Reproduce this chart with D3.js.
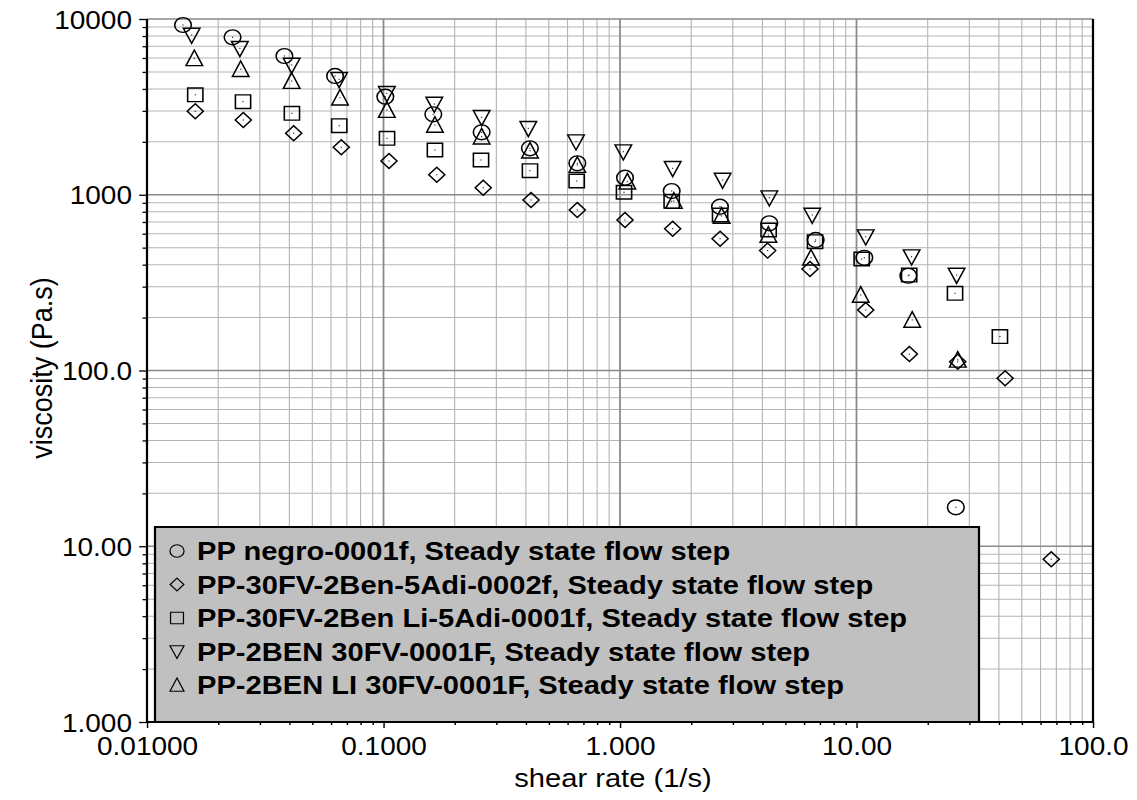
<!DOCTYPE html>
<html>
<head>
<meta charset="utf-8">
<script src="https://cdn.jsdelivr.net/npm/d3@7"></script>
<style>
  html, body { margin: 0; padding: 0; background: #fff; }
  svg { display: block; }
  text { font-family: "Liberation Sans", Arial, sans-serif; fill: #000; }
</style>
</head>
<body>
<div id="chart"></div>
<script>
// series data (shear rate 1/s, viscosity Pa.s)
var negroX = [0.0142, 0.0230, 0.0381, 0.0624, 0.1018, 0.1624, 0.260, 0.416, 0.660, 1.05, 1.654, 2.647, 4.28, 6.72, 10.79, 16.56, 26.3];
var negroY = [9245, 7870, 6160, 4741, 3614, 2869, 2266, 1838, 1510, 1250, 1050, 855, 688, 553, 438, 346, 16.65];

var adi2X = [0.0160, 0.02554, 0.0417, 0.0663, 0.1055, 0.168, 0.264, 0.4205, 0.660, 1.05, 1.67, 2.65, 4.21, 6.36, 10.94, 16.73, 26.8, 42.5, 66.6];
var adi2Y = [2985, 2663, 2237, 1862, 1556, 1300, 1097, 934, 819, 718, 641, 562, 481, 378, 221, 124, 112, 90.3, 8.43];

var benLiX = [0.0160, 0.02547, 0.0410, 0.0650, 0.1035, 0.165, 0.2584, 0.4163, 0.656, 1.04, 1.654, 2.65, 4.25, 6.68, 10.52, 16.7, 26.1, 40.4];
var benLiY = [3705, 3384, 2907, 2472, 2095, 1797, 1577, 1371, 1197, 1033, 917, 767, 630, 541, 431, 349, 275, 156];

var ben30X = [0.01545, 0.0247, 0.0409, 0.0649, 0.1033, 0.164, 0.260, 0.4096, 0.6516, 1.033, 1.67, 2.716, 4.28, 6.50, 10.94, 17.1, 26.5];
var ben30Y = [8110, 6810, 5474, 4540, 3776, 3284, 2759, 2388, 2004, 1758, 1414, 1213, 962, 767, 577, 444, 349];

var benLi30X = [0.01585, 0.0249, 0.0409, 0.0655, 0.1033, 0.165, 0.260, 0.4163, 0.660, 1.074, 1.69, 2.69, 4.24, 6.42, 10.42, 17.2, 26.8];
var benLi30Y = [5975, 5176, 4436, 3565, 3034, 2494, 2139, 1781, 1476, 1187, 921, 757, 590, 438, 269, 194, 115];

var seriesNames = [
    "PP negro-0001f, Steady state flow step",
    "PP-30FV-2Ben-5Adi-0002f, Steady state flow step",
    "PP-30FV-2Ben Li-5Adi-0001f, Steady state flow step",
    "PP-2BEN 30FV-0001F, Steady state flow step",
    "PP-2BEN LI 30FV-0001F, Steady state flow step"
];
var seriesShapes = ["circle", "diamond", "square", "down", "up"];

var xTickValues = [0.01, 0.1, 1, 10, 100];
var xTickLabels = ["0.01000", "0.1000", "1.000", "10.00", "100.0"];
var yTickValues = [1, 10, 100, 1000, 10000];
var yTickLabels = ["1.000", "10.00", "100.0", "1000", "10000"];

// the original picture is stretched sideways, so draw in a narrower box and stretch it
var K = 1.12;
var W = 1137 / K;
var H = 800;
var plotL = 147 / K, plotR = 1093 / K, plotT = 19, plotB = 722;

var svg = d3.select('#chart').append('svg')
    .attr('width', 1137)
    .attr('height', 800)
    .attr('viewBox', '0 0 ' + W + ' ' + H)
    .attr('preserveAspectRatio', 'none');

var x = d3.scaleLog().domain([0.01, 100]).range([plotL, plotR]);
var y = d3.scaleLog().domain([1, 10000]).range([plotB, plotT]);

function minors(lo, hi) {
    var out = [];
    for (var d = lo; d < hi; d *= 10) {
        for (var m = 2; m <= 9; m++) {
            out.push(d * m);
        }
    }
    return out;
}
var xMinor = minors(0.01, 100);
var yMinor = minors(1, 10000);

// grid
var grid = svg.append('g');
grid.selectAll('.xminor').data(xMinor).enter().append('line')
    .attr('x1', function(d) { return x(d); }).attr('x2', function(d) { return x(d); })
    .attr('y1', plotT).attr('y2', plotB)
    .style('stroke', '#b4b4b4').style('stroke-width', 1);
grid.selectAll('.yminor').data(yMinor).enter().append('line')
    .attr('y1', function(d) { return y(d); }).attr('y2', function(d) { return y(d); })
    .attr('x1', plotL).attr('x2', plotR)
    .style('stroke', '#b4b4b4').style('stroke-width', 1);
grid.selectAll('.xmajor').data(xTickValues).enter().append('line')
    .attr('x1', function(d) { return x(d); }).attr('x2', function(d) { return x(d); })
    .attr('y1', plotT).attr('y2', plotB)
    .style('stroke', '#8a8a8a').style('stroke-width', 1.6);
grid.selectAll('.ymajor').data(yTickValues).enter().append('line')
    .attr('y1', function(d) { return y(d); }).attr('y2', function(d) { return y(d); })
    .attr('x1', plotL).attr('x2', plotR)
    .style('stroke', '#8a8a8a').style('stroke-width', 1.6);

// marker shapes, centred on 0,0
function shapePath(kind, s) {
    s = s || 1;
    if (kind === 'circle') {
        var r = 7.4 * s;
        return 'M' + (-r) + ',0A' + r + ',' + r + ' 0 1,0 ' + r + ',0A' + r + ',' + r + ' 0 1,0 ' + (-r) + ',0Z';
    }
    if (kind === 'square') {
        var h = 6.8 * s;
        return 'M' + (-h) + ',' + (-h) + 'H' + h + 'V' + h + 'H' + (-h) + 'Z';
    }
    if (kind === 'diamond') {
        var a = 7.2 * s, b = 7.5 * s;
        return 'M0,' + (-b) + 'L' + a + ',0L0,' + b + 'L' + (-a) + ',0Z';
    }
    if (kind === 'up') {
        return 'M0,' + (-8.3 * s) + 'L' + (7.4 * s) + ',' + (7.3 * s) + 'L' + (-7.4 * s) + ',' + (7.3 * s) + 'Z';
    }
    // down
    return 'M0,' + (8.3 * s) + 'L' + (7.4 * s) + ',' + (-6.8 * s) + 'L' + (-7.4 * s) + ',' + (-6.8 * s) + 'Z';
}

var allSeries = [
    {xs: negroX, ys: negroY},
    {xs: adi2X, ys: adi2Y},
    {xs: benLiX, ys: benLiY},
    {xs: ben30X, ys: ben30Y},
    {xs: benLi30X, ys: benLi30Y}
];

var marks = svg.append('g');
allSeries.forEach(function(s, i) {
    var pts = s.xs.map(function(v, j) { return [v, s.ys[j]]; });
    var g = marks.append('g');
    g.selectAll('path').data(pts).enter().append('path')
        .attr('d', shapePath(seriesShapes[i]))
        .attr('transform', function(d) { return 'translate(' + x(d[0]) + ',' + y(d[1]) + ')'; })
        .style('fill', 'none')
        .style('stroke', '#000')
        .style('stroke-width', 1.4);
    g.selectAll('rect').data(pts).enter().append('rect')
        .attr('x', function(d) { return x(d[0]) - 0.5; })
        .attr('y', function(d) { return y(d[1]) - 0.5; })
        .attr('width', 1).attr('height', 1)
        .style('fill', '#000');
});

// legend
var legX0 = 155 / K, legX1 = 979 / K, legY0 = 527, legY1 = plotB;
var legend = svg.append('g');
legend.append('rect')
    .attr('x', legX0).attr('y', legY0)
    .attr('width', legX1 - legX0).attr('height', legY1 - legY0)
    .style('fill', '#c0c0c0')
    .style('stroke', '#000')
    .style('stroke-width', 2);
var rowY = d3.scaleLinear().domain([0, 4]).range([551, 685]);
seriesNames.forEach(function(name, i) {
    legend.append('path')
        .attr('d', shapePath(seriesShapes[i], 0.85))
        .attr('transform', 'translate(' + (177 / K) + ',' + rowY(i) + ')')
        .style('fill', 'none')
        .style('stroke', '#000')
        .style('stroke-width', 1.1);
    legend.append('text')
        .attr('x', 197 / K)
        .attr('y', rowY(i) + 9.5)
        .style('font-size', '26px')
        .style('font-weight', 'bold')
        .text(name);
});

// axes
var yAxisMajor = d3.axisLeft(y).tickValues(yTickValues).tickSize(7)
    .tickFormat(function(d, i) { return yTickLabels[i]; });
var yAxisMinor = d3.axisLeft(y).tickValues(yMinor).tickSize(4).tickFormat('');
var xAxisMajor = d3.axisBottom(x).tickValues(xTickValues).tickSize(6)
    .tickFormat(function(d, i) { return xTickLabels[i]; });
var xAxisMinor = d3.axisBottom(x).tickValues(xMinor).tickSize(3).tickFormat('');

function styleAxis(g) {
    g.select('.domain').remove();
    g.selectAll('line').style('stroke', '#000').style('stroke-width', 1.3);
    g.selectAll('text').style('font-size', '25px').style('font-family', '"Liberation Sans", Arial, sans-serif').style('fill', '#000');
}

svg.append('g').attr('transform', 'translate(' + plotL + ',0)').call(yAxisMinor).call(styleAxis);
var ya = svg.append('g').attr('transform', 'translate(' + plotL + ',0)').call(yAxisMajor).call(styleAxis);
ya.selectAll('text').attr('x', -15 / K).attr('dy', '0.36em');

svg.append('g').attr('transform', 'translate(0,' + plotB + ')').call(xAxisMinor).call(styleAxis);
var xa = svg.append('g').attr('transform', 'translate(0,' + plotB + ')').call(xAxisMajor).call(styleAxis);
xa.selectAll('text').attr('y', 33).attr('dy', 0);

// frame lines
svg.append('line').attr('x1', plotL).attr('x2', plotL).attr('y1', plotT).attr('y2', plotB)
    .style('stroke', '#000').style('stroke-width', 2);
svg.append('line').attr('x1', plotL).attr('x2', plotR).attr('y1', plotB).attr('y2', plotB)
    .style('stroke', '#000').style('stroke-width', 2);
svg.append('line').attr('x1', plotR).attr('x2', plotR).attr('y1', plotT).attr('y2', plotB)
    .style('stroke', '#000').style('stroke-width', 2);

// axis titles
svg.append('text')
    .attr('x', 613 / K).attr('y', 787)
    .attr('text-anchor', 'middle')
    .style('font-size', '26px')
    .text('shear rate (1/s)');
svg.append('text')
    .attr('transform', 'translate(' + (52 / K) + ',' + 368 + ') rotate(-90)')
    .attr('text-anchor', 'middle')
    .style('font-size', '27px')
    .text('viscosity (Pa.s)');
</script>
</body>
</html>
